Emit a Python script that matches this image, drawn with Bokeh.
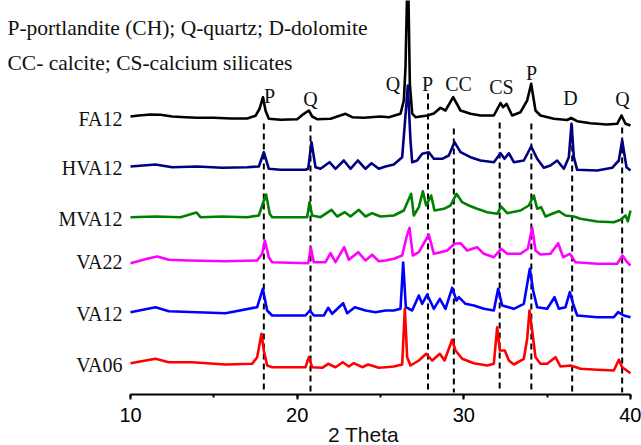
from bokeh.plotting import figure
from bokeh.models import Range1d, Label, SingleIntervalTicker, ColumnDataSource, LinearAxis
from bokeh.embed import file_html
from bokeh.resources import INLINE
from bokeh.core.properties import value

# ---------------- data (2 theta in degrees, intensity in a.u. relative to each pattern's baseline)
samples = ["FA12", "HVA12", "MVA12", "VA22", "VA12", "VA06"]
colors = ["#000000", "#000080", "#008000", "#FF00FF", "#0000FF", "#FF0000"]
offsets = [277, 228, 177, 134, 82, 31]

fa12_theta = [10.0, 10.5, 11.2, 11.8, 12.5, 13.3, 14.0, 15.0, 16.0, 17.0, 17.5, 17.75, 17.95, 18.1, 18.3,
              19.0, 20.0, 20.4, 20.7, 20.9, 21.2, 22.0, 22.9, 23.3, 24.0, 25.0, 25.5, 26.2, 26.4, 26.5,
              26.64, 26.76, 26.9, 27.1, 27.8, 28.2, 28.6, 28.9, 29.36, 29.8, 30.4, 31.0, 31.8, 32.2,
              32.36, 32.56, 32.9, 33.4, 33.8, 34.04, 34.3, 34.6, 35.4, 36.2, 36.44, 36.8, 37.6, 38.6,
              39.2, 39.46, 39.7, 40.0]
fa12_int = [1, 2, 3, 2.7, 1, 0.3, -0.3, -0.3, -1, -1, 1.7, 9, 20.3, 7, -1.3,
            -2.3, -1.7, 3.7, 7, 1, -1.7, -1.3, 3.7, 0.3, -0.3, 1, 0.3, 3.7, 17, 50.3,
            160, 34, 4, 0.3, 2, 4, 9.7, 7, 20.3, 7, 3.7, 2, 2, 14.5,
            10.3, 13.7, 2, 5.3, 17, 33.7, 7, 2, -1.3, -2.5, -0.5, -3.7, -5.7, -7,
            -6.3, 2, -6.3, -8]

hva12_theta = [10.0, 11.5, 12.5, 14.0, 15.5, 17.0, 17.7, 18.0, 18.3, 19.0, 20.5, 20.66, 20.86, 21.1,
               21.4, 21.94, 22.3, 22.8, 23.2, 23.64, 24.1, 24.46, 24.9, 25.3, 25.8, 26.3, 26.64, 26.8,
               26.9, 27.2, 27.5, 27.9, 28.2, 28.7, 29.1, 29.44, 29.8, 30.4, 31.0, 31.8, 32.2, 32.44,
               32.7, 33.0, 33.6, 34.04, 34.4, 34.8, 35.2, 35.6, 36.0, 36.3, 36.46, 36.6, 36.8, 38.0,
               38.9, 39.3, 39.5, 39.76, 40.0]
hva12_int = [0, 2, -0.7, 0, -1.3, -0.7, 0, 14.3, -2.3, -3.3, -3.3, -2.3, 24.3, -0.7,
             -2.3, 4.3, -2.3, 6, -2.3, 6, -2.3, 3.3, -2.3, 0, 2, 9.3, 81, 26,
             4.3, 6, 12.7, 14.3, 7.7, 7.7, 11, 24.3, 14.3, 9.3, 6, 4.3, 13.3, 7.7,
             13.3, 4.3, 6, 20, 7.7, -1.3, 1, 6, -2.3, 9.3, 42.7, 9.3, -3.3, -4,
             -1.3, 6, 26, -0.7, -4]

mva12_theta = [10.0, 11.5, 13.0, 13.96, 14.2, 15.5, 17.0, 17.7, 17.9, 18.14, 18.35, 18.5, 19.5, 20.6,
               20.74, 20.9, 21.4, 22.06, 22.4, 22.86, 23.2, 23.7, 24.1, 24.5, 25.0, 25.8, 26.4, 26.84,
               27.0, 27.3, 27.54, 27.74, 28.04, 28.24, 28.8, 29.2, 29.56, 29.9, 30.3, 30.8, 31.4, 32.0,
               32.24, 32.6, 33.4, 33.9, 34.2, 34.4, 34.64, 34.9, 35.3, 35.7, 36.1, 36.6, 37.0, 38.0,
               39.0, 39.4, 39.7, 39.84, 40.0]
mva12_int = [0.3, 1, 0.3, 5, 0.3, 1, 0.3, 2, 12, 23, 3.7, 0.3, 0.3, 0.3,
             15.3, 2, 0.3, 7.7, 1, 5.3, 1, 7.7, 1, 4.3, 1, 2, 7, 23.7,
             2, 10.3, 26.3, 12, 22, 7, 8.7, 12, 23.7, 15.3, 12, 8.7, 5.3, 3.7,
             11, 4.3, 7, 12, 22, 8.7, 10.3, 1, 3.7, 6.3, 2, 1, -1.3, -4,
             -4.7, -2.3, 2, -3.7, 7]

va22_theta = [10.0, 11.0, 11.6, 12.3, 13.5, 15.7, 17.6, 17.9, 18.06, 18.3, 18.5, 20.66, 20.82, 21.0,
              21.7, 22.0, 22.3, 22.82, 23.1, 23.66, 24.1, 24.5, 24.9, 25.3, 25.8, 26.3, 26.56, 26.74,
              26.94, 27.3, 27.9, 28.2, 28.6, 29.0, 29.44, 29.8, 30.2, 30.8, 31.2, 31.8, 32.24, 32.6,
              33.4, 33.84, 34.1, 34.3, 34.6, 35.2, 35.66, 35.96, 36.36, 36.7, 38.0, 39.2, 39.52, 39.8,
              40.0]
va22_int = [-2.7, 1.7, 4, 0.7, 0, -0.7, 0, 6.7, 20, 3.3, -1.7, -2.7, 12.7, -1.7,
            -1.7, 7.3, -1.7, 13.3, 0.7, 8.3, 0, 5.7, -0.7, 0, 1.7, 5, 23.3, 32.7,
            5, 8.3, 26, 6.7, 8.3, 10, 16.7, 17.3, 10, 13.3, 6.7, 3.3, 11.7, 6.7,
            6.7, 11.7, 32.7, 10, 6, 6.7, 17.3, 3.3, 6.7, -1.7, -3.3, -3.3, 5, -1.7,
            -5]

va12_theta = [10.0, 11.5, 12.3, 14.0, 15.7, 17.6, 17.94, 18.2, 18.5, 20.5, 20.76, 21.0, 21.6, 21.86,
              22.1, 22.76, 23.0, 23.46, 24.1, 24.7, 25.3, 25.8, 26.2, 26.36, 26.52, 26.9, 27.3, 27.5,
              27.8, 28.2, 28.56, 28.9, 29.3, 29.56, 29.7, 30.1, 30.6, 31.2, 31.8, 32.06, 32.3, 33.0,
              33.6, 33.96, 34.16, 34.4, 35.0, 35.44, 35.7, 36.1, 36.36, 36.56, 36.8, 38.0, 39.0, 39.26,
              39.6, 40.0]
va12_int = [0.3, 5.3, 1.3, 0.3, -0.7, 5.3, 23.7, 2, -3, -3, 2, -3, -3, 4.7,
            -1.3, 9.3, -0.7, 5.3, 2, 0.3, 2, 2, 3.7, 50, 5.3, 2, 17, 8.7,
            18, 3.7, 13.7, 3.7, 24.7, 12, 15.3, 8.7, 7, 3.7, 2, 23.7, 7, 3.7,
            8.7, 43.7, 22, 5.3, 3.7, 15.3, 3.7, 5.3, 20.3, 8.7, -3, -4.7, -4.7, 0.3,
            -3, -4.7]

va06_theta = [10.0, 11.5, 12.3, 13.7, 15.7, 17.3, 17.6, 17.86, 18.0, 18.2, 18.5, 20.5, 20.7, 20.9,
              21.5, 21.86, 22.3, 22.74, 23.1, 23.4, 23.9, 24.26, 24.9, 25.3, 25.8, 26.3, 26.46, 26.6,
              26.8, 27.3, 27.74, 28.1, 28.56, 28.84, 29.3, 29.5, 29.9, 30.6, 31.4, 31.8, 32.0, 32.16,
              32.46, 32.7, 33.0, 33.6, 33.8, 33.94, 34.1, 34.3, 34.6, 35.0, 35.5, 35.8, 36.4, 37.0,
              38.0, 39.0, 39.3, 39.5, 40.0]
va06_int = [0.3, 4.7, 1.3, 1.3, -1, -0.3, 6.3, 29.7, 13, -2, -3.7, -3.7, 6.3, -3.7,
            -4.3, -0.3, -3.7, 1.3, -3, 0.3, -3.7, -1, -4.3, -3.7, -3, -1, 54.7, 6.3,
            -2, 3, 9.7, 3, 9.7, 3, 23.7, 13, 4.7, 0.3, -2, -0.3, 36.3, 13,
            13, 3, -1, 4.7, 24.7, 53, 33, 6.3, -0.3, -0.3, 6.3, -3, -2, -5.3,
            -6.3, -7, 3.7, -3.7, -9.7]

thetas = [fa12_theta, hva12_theta, mva12_theta, va22_theta, va12_theta, va06_theta]
intensities = [fa12_int, hva12_int, mva12_int, va22_int, va12_int, va06_int]

# reference phase positions (dashed lines) and phase labels
phase_line_theta = [18.0, 20.8, 27.85, 29.4, 32.15, 34.05, 36.5, 39.5]
phase_line_top = [271, 269, 301, 266, 272, 271, 269, 267]
phase_text = ["P", "Q", "Q", "P", "CC", "CS", "P", "D", "Q"]
phase_label_theta = [18.34, 20.8, 25.75, 27.82, 29.68, 32.26, 34.06, 36.4, 39.52]
phase_label_y = [299, 296, 311, 311, 311, 308, 322, 297, 296]

legend_lines = ["P-portlandite (CH); Q-quartz; D-dolomite", "CC- calcite; CS-calcium silicates"]

# ---------------- figure: the frame covers the whole canvas so that side texts are not clipped
PX = 500.0 / 30.0  # pixels per degree
p = figure(width=641, height=445, output_backend="svg", toolbar_location=None,
           x_range=Range1d(10 - 130 / PX, 40 + 11 / PX), y_range=Range1d(-51, 394),
           x_axis_location=None, y_axis_location=None,
           min_border_left=0, min_border_right=0, min_border_top=0, min_border_bottom=0)
p.outline_line_color = None
p.xgrid.visible = False
p.ygrid.visible = False
p.background_fill_color = "white"
p.border_fill_color = "white"

ax = LinearAxis(fixed_location=0, bounds=(10, 40))
ax.ticker = SingleIntervalTicker(interval=10, num_minor_ticks=2)
ax.axis_line_width = 2
ax.axis_line_color = "black"
ax.major_tick_line_width = 2
ax.major_tick_out = 5
ax.major_tick_in = 0
ax.minor_tick_line_width = 2
ax.minor_tick_out = 3
ax.minor_tick_in = 0
ax.major_label_standoff = 8
ax.major_label_text_font = "Liberation Sans"
ax.major_label_text_font_size = "20px"
ax.major_label_text_color = "black"
p.add_layout(ax, "below")

# dashed reference lines
p.segment(x0=phase_line_theta, y0=phase_line_top, x1=phase_line_theta, y1=[2] * len(phase_line_theta),
          line_color="black", line_width=2, line_dash="6 4")

# patterns
for name, th, inten, off, col in zip(samples, thetas, intensities, offsets, colors):
    ys = [v + off for v in inten]
    p.line(th, ys, line_color=col, line_width=2.6, line_join="round")
    p.add_layout(Label(x=9.52, y=off - 1, text=name, text_align="right", text_baseline="middle",
                       text_font="Liberation Serif", text_font_size="20px", text_color="#111111"))

# phase labels
src = ColumnDataSource(dict(x=phase_label_theta, y=phase_label_y, t=phase_text))
p.text(x="x", y="y", text="t", source=src, text_align="center", text_baseline="middle",
       text_font=value("Liberation Serif"), text_font_size="20px", text_color="#111111")

# legend text
for i, s in enumerate(legend_lines):
    p.add_layout(Label(x=10 - 123 / PX, y=367 - 35 * i, text=s, text_align="left", text_baseline="middle",
                       text_font="Liberation Serif", text_font_size="21.5px", text_color="#111111"))

# axis title
p.add_layout(Label(x=23.98, y=-40, text="2 Theta", text_align="center", text_baseline="middle",
                   text_font="Liberation Sans", text_font_size="21px", text_color="#111111"))

open("out.html", "w").write(file_html(p, INLINE))
